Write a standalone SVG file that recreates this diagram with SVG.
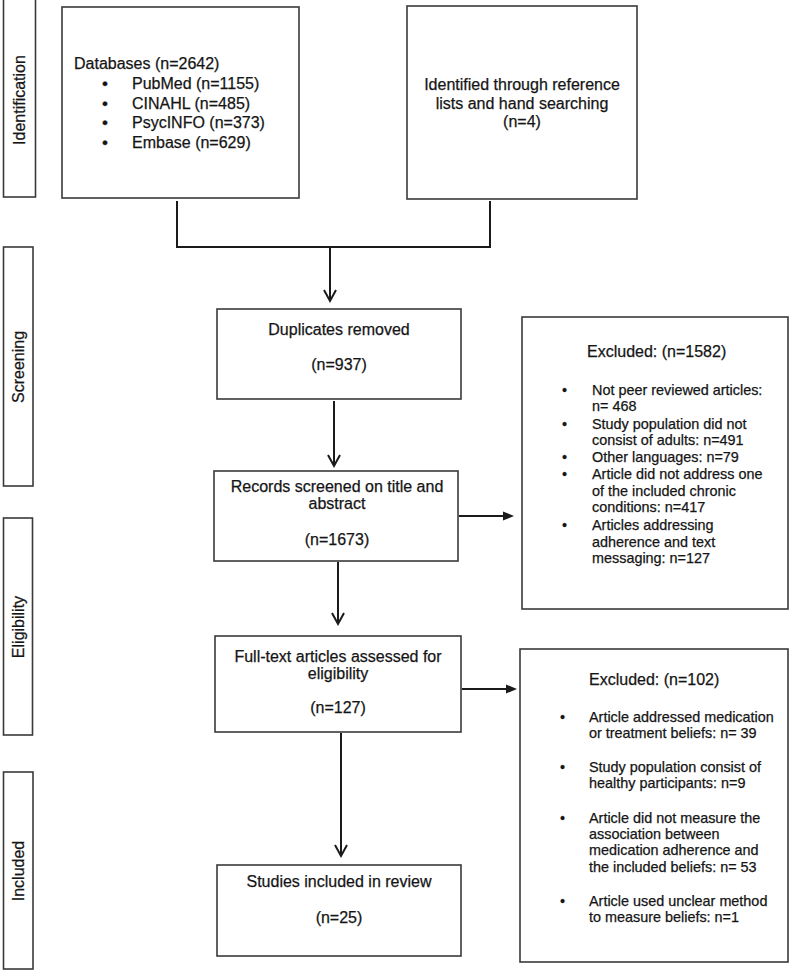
<svg xmlns="http://www.w3.org/2000/svg" width="789" height="971" viewBox="0 0 789 971">
<style>
text{font-family:"Liberation Sans",Arial,sans-serif;fill:#151515;stroke:#151515;stroke-width:0.25;}
.box{fill:#fff;stroke:#3a3a3a;stroke-width:1.6;}
.side{fill:#fff;stroke:#3a3a3a;stroke-width:1.6;}
.t16{font-size:16px;}
.t14{font-size:14.4px;}
.b{font-size:17px;}
.mid{text-anchor:middle;}
.con{fill:none;stroke:#1a1a1a;stroke-width:2;}
.head{fill:none;stroke:#1a1a1a;stroke-width:2;stroke-linejoin:miter;}
.fhead{fill:#1a1a1a;stroke:none;}
</style>
<rect width="789" height="971" fill="#fff"/>

<g id="stage-identification">
<rect class="side" x="3.5" y="-2" width="32" height="199"/>
<text class="t16 mid" transform="translate(25,100) rotate(-90)">Identification</text>
</g>
<g id="stage-screening">
<rect class="side" x="3.5" y="247" width="29.5" height="239"/>
<text class="t16 mid" transform="translate(24,367) rotate(-90)">Screening</text>
</g>
<g id="stage-eligibility">
<rect class="side" x="3.5" y="518" width="29" height="217"/>
<text class="t16 mid" transform="translate(24,627) rotate(-90)">Eligibility</text>
</g>
<g id="stage-included">
<rect class="side" x="3.5" y="772" width="29.5" height="197"/>
<text class="t16 mid" transform="translate(24,871) rotate(-90)">Included</text>
</g>

<g id="connectors">
<path class="con" d="M177,201 V247 H490 V201"/>
<line class="con" x1="330" y1="247" x2="330" y2="301"/>
<polyline class="head" points="324,290 330,301 336,290"/>
<line class="con" x1="334" y1="401" x2="334" y2="466"/>
<polyline class="head" points="328,455 334,466 340,455"/>
<line class="con" x1="338" y1="562" x2="338" y2="624"/>
<polyline class="head" points="332,613 338,624 344,613"/>
<line class="con" x1="341" y1="733" x2="341" y2="856"/>
<polyline class="head" points="335,845 341,856 347,845"/>
<line class="con" x1="459" y1="516" x2="505" y2="516"/>
<polygon class="fhead" points="503,511.5 514,516 503,520.5"/>
<line class="con" x1="462" y1="689" x2="508" y2="689"/>
<polygon class="fhead" points="506,684.5 517,689 506,693.5"/>
</g>

<g id="databases">
<rect class="box" x="62" y="7" width="237" height="191"/>
<text class="t16" x="74" y="69">Databases (n=2642)</text>
<text class="t16" y="89"><tspan class="b" x="102">•</tspan><tspan x="132">PubMed (n=1155)</tspan></text>
<text class="t16" y="109"><tspan class="b" x="102">•</tspan><tspan x="132">CINAHL (n=485)</tspan></text>
<text class="t16" y="128"><tspan class="b" x="102">•</tspan><tspan x="132">PsycINFO (n=373)</tspan></text>
<text class="t16" y="148"><tspan class="b" x="102">•</tspan><tspan x="132">Embase (n=629)</tspan></text>
</g>

<g id="other-sources">
<rect class="box" x="407" y="6" width="230" height="193"/>
<text class="t16 mid" x="522" y="90">Identified through reference</text>
<text class="t16 mid" x="522" y="108.5">lists and hand searching</text>
<text class="t16 mid" x="522" y="127">(n=4)</text>
</g>

<g id="duplicates">
<rect class="box" x="217" y="309" width="244" height="90"/>
<text class="t16 mid" x="339" y="335">Duplicates removed</text>
<text class="t16 mid" x="339" y="370">(n=937)</text>
</g>

<g id="screened">
<rect class="box" x="214" y="471" width="244" height="90"/>
<text class="t16 mid" x="337" y="492">Records screened on title and</text>
<text class="t16 mid" x="337" y="509">abstract</text>
<text class="t16 mid" x="337" y="545">(n=1673)</text>
</g>

<g id="excluded-1">
<rect class="box" x="522" y="317" width="266" height="292"/>
<text class="t16" x="587" y="357">Excluded: (n=1582)</text>
<text class="t14" y="395"><tspan x="562">•</tspan><tspan x="592">Not peer reviewed articles:</tspan></text>
<text class="t14" x="592" y="411">n= 468</text>
<text class="t14" y="429"><tspan x="562">•</tspan><tspan x="592">Study population did not</tspan></text>
<text class="t14" x="592" y="445">consist of adults: n=491</text>
<text class="t14" y="462"><tspan x="562">•</tspan><tspan x="592">Other languages: n=79</tspan></text>
<text class="t14" y="479"><tspan x="562">•</tspan><tspan x="592">Article did not address one</tspan></text>
<text class="t14" x="592" y="496">of the included chronic</text>
<text class="t14" x="592" y="512">conditions: n=417</text>
<text class="t14" y="530"><tspan x="562">•</tspan><tspan x="592">Articles addressing</tspan></text>
<text class="t14" x="592" y="547">adherence and text</text>
<text class="t14" x="592" y="563">messaging: n=127</text>
</g>

<g id="fulltext">
<rect class="box" x="215" y="636" width="246" height="96"/>
<text class="t16 mid" x="338" y="662">Full-text articles assessed for</text>
<text class="t16 mid" x="338" y="679">eligibility</text>
<text class="t16 mid" x="338" y="713">(n=127)</text>
</g>

<g id="excluded-2">
<rect class="box" x="520" y="649" width="268" height="313"/>
<text class="t16" x="589" y="685">Excluded: (n=102)</text>
<text class="t14" y="722"><tspan x="560">•</tspan><tspan x="589">Article addressed medication</tspan></text>
<text class="t14" x="589" y="738">or treatment beliefs: n= 39</text>
<text class="t14" y="772"><tspan x="560">•</tspan><tspan x="589">Study population consist of</tspan></text>
<text class="t14" x="589" y="788">healthy participants: n=9</text>
<text class="t14" y="823"><tspan x="560">•</tspan><tspan x="589">Article did not measure the</tspan></text>
<text class="t14" x="589" y="839">association between</text>
<text class="t14" x="589" y="855">medication adherence and</text>
<text class="t14" x="589" y="872">the included beliefs: n= 53</text>
<text class="t14" y="906"><tspan x="560">•</tspan><tspan x="589">Article used unclear method</tspan></text>
<text class="t14" x="589" y="922">to measure beliefs: n=1</text>
</g>

<g id="included">
<rect class="box" x="217" y="865" width="244" height="91"/>
<text class="t16 mid" x="339" y="887">Studies included in review</text>
<text class="t16 mid" x="339" y="923">(n=25)</text>
</g>
</svg>
